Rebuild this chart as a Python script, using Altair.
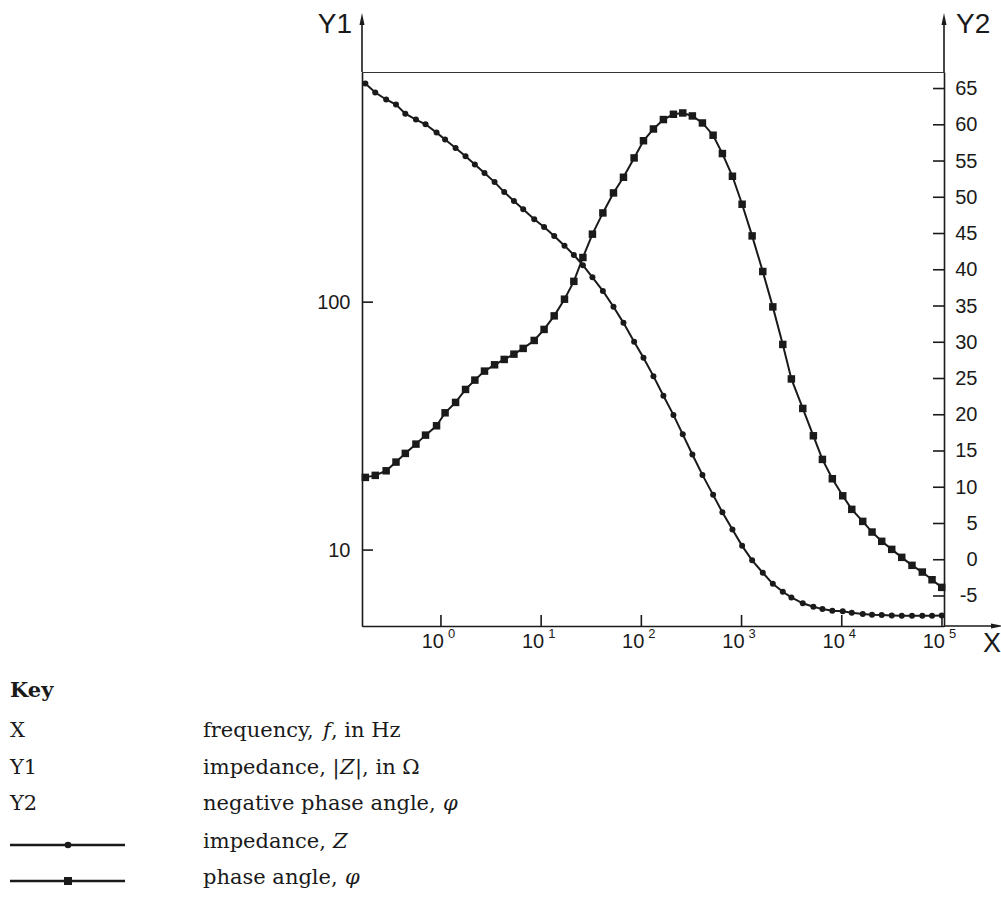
import altair as alt
import pandas as pd

# ---------------- data ----------------
freq = [0.176, 0.221, 0.284, 0.356, 0.441, 0.563, 0.702, 0.904, 1.10, 1.40,
        1.76, 2.18, 2.72, 3.43, 4.28, 5.35, 6.62, 8.53, 10.7, 13.5,
        17.1, 21.2, 26.1, 32.5, 41.3, 52.7, 66.3, 84.7, 105, 132,
        166, 209, 259, 323, 407, 520, 644, 811, 1013, 1275,
        1629, 2051, 2580, 3142, 4083, 5208, 6412, 8054, 10230, 12590,
        16190, 20050, 25050, 31540, 39700, 50240, 63670, 79620, 99500]
impedance = [762, 701, 657, 627, 576, 545, 522, 483, 453, 419,
             388, 359, 332, 305, 278, 256, 237, 216, 201, 185,
             169, 155, 141, 126, 111, 95.9, 82.5, 69.3, 59.7, 50.3,
             41.9, 35.1, 29.3, 24.3, 20.1, 16.7, 14.2, 12.1, 10.4, 9.09,
             8.10, 7.31, 6.79, 6.44, 6.10, 5.91, 5.78, 5.69, 5.66, 5.59,
             5.52, 5.48, 5.47, 5.45, 5.43, 5.43, 5.43, 5.43, 5.45]
phase = [11.36, 11.64, 12.27, 13.47, 14.67, 15.95, 17.19, 18.48, 20.27, 21.70,
         23.49, 24.78, 26.02, 26.89, 27.63, 28.36, 29.15, 30.25, 31.77, 33.64,
         35.94, 38.40, 41.69, 44.91, 47.84, 50.60, 52.76, 55.43, 57.80, 59.42,
         60.72, 61.45, 61.63, 61.22, 60.25, 58.56, 56.03, 52.90, 49.04, 44.67,
         39.76, 34.88, 29.70, 24.94, 20.87, 17.10, 13.84, 11.17, 8.82, 6.95,
         5.29, 3.82, 2.54, 1.43, 0.33, -0.77, -1.70, -2.76, -3.81]

x_ticks = [1, 10, 100, 1000, 10000, 100000]
x_tick_base = ["10", "10", "10", "10", "10", "10"]
x_tick_exp = ["0", "1", "2", "3", "4", "5"]
y1_ticks = [10, 100]
y2_ticks = [-5, 0, 5, 10, 15, 20, 25, 30, 35, 40, 45, 50, 55, 60, 65]

x_domain = [0.163, 104800]
y1_domain = [4.94, 848]
y2_domain = [-9.14, 67.28]

axis_names = ["X", "Y1", "Y2"]
key_title = "Key"
key_rows = [
    [("frequency, ", "normal"), ("f", "italic"), (", in Hz", "normal")],
    [("impedance, |", "normal"), ("Z", "italic"), ("|, in Ω", "normal")],
    [("negative phase angle, ", "normal"), ("φ", "italic")],
    [("impedance, ", "normal"), ("Z", "italic")],
    [("phase angle, ", "normal"), ("φ", "italic")],
]

# ---------------- layout / style ----------------
W, H = 582, 554
PADL, PADT = 362, 72
INK = "#1a1a1a"
SANS = "Liberation Sans"
SERIF = "DejaVu Serif"

df = pd.DataFrame({"f": freq, "Z": impedance, "phi": phase})
xt = pd.DataFrame({"f": x_ticks, "base": x_tick_base, "exp": x_tick_exp})
y1t = pd.DataFrame({"Z": y1_ticks})
y2t = pd.DataFrame({"phi": y2_ticks})
one = pd.DataFrame({"a": [0]})

xs = alt.Scale(type="log", domain=x_domain, nice=False)
y1s = alt.Scale(type="log", domain=y1_domain, nice=False)
y2s = alt.Scale(type="linear", domain=y2_domain, nice=False, zero=False)

x_axis = alt.Axis(values=x_ticks, labels=False, ticks=False, grid=False, title=None,
                  domainColor=INK, domainWidth=1.6)
y1_axis = alt.Axis(orient="left", values=y1_ticks, ticks=False, grid=False, title=None,
                   labelExpr="'' + datum.value", labelFont=SANS, labelFontSize=20,
                   labelColor=INK, labelPadding=12, domainColor=INK, domainWidth=1.6)
y2_axis = alt.Axis(orient="right", values=y2_ticks, ticks=False, grid=False, title=None,
                   labelExpr="'' + datum.value", labelFont=SANS, labelFontSize=20,
                   labelColor=INK, labelAlign="right", labelPadding=33,
                   domainColor=INK, domainWidth=1.6)

X = alt.X("f:Q", scale=xs, axis=x_axis)

# impedance group (left log axis)
imp_line = alt.Chart(df).mark_line(color=INK, strokeWidth=2).encode(
    x=X, y=alt.Y("Z:Q", scale=y1s, axis=y1_axis))
imp_pts = alt.Chart(df).mark_point(shape="circle", filled=True, size=36, color=INK, opacity=1).encode(
    x=X, y=alt.Y("Z:Q", scale=y1s, axis=y1_axis))
y1_tick_rules = alt.Chart(y1t).mark_rule(color=INK, strokeWidth=1.6).encode(
    y=alt.Y("Z:Q", scale=y1s, axis=y1_axis), x=alt.value(0), x2=alt.value(11))
imp_group = alt.layer(imp_line, imp_pts, y1_tick_rules)

# phase group (right linear axis)
ph_line = alt.Chart(df).mark_line(color=INK, strokeWidth=2).encode(
    x=X, y=alt.Y("phi:Q", scale=y2s, axis=y2_axis))
ph_pts = alt.Chart(df).mark_point(shape="square", filled=True, size=56, color=INK, opacity=1).encode(
    x=X, y=alt.Y("phi:Q", scale=y2s, axis=y2_axis))
y2_tick_rules = alt.Chart(y2t).mark_rule(color=INK, strokeWidth=1.6).encode(
    y=alt.Y("phi:Q", scale=y2s, axis=y2_axis), x=alt.value(W - 11), x2=alt.value(W))
ph_group = alt.layer(ph_line, ph_pts, y2_tick_rules)

# x ticks (inward) and labels 10^n
x_tick_rules = alt.Chart(xt).mark_rule(color=INK, strokeWidth=1.6).encode(
    x=X, y=alt.value(H - 11), y2=alt.value(H))
x_lab_base = alt.Chart(xt).mark_text(align="right", baseline="alphabetic", dx=3,
                                     font=SANS, fontSize=20, color=INK).encode(
    x=X, y=alt.value(H + 22), text="base:N")
x_lab_exp = alt.Chart(xt).mark_text(align="left", baseline="alphabetic", dx=7,
                                    font=SANS, fontSize=13, color=INK).encode(
    x=X, y=alt.value(H + 12), text="exp:N")

# axis extensions with arrow heads
def rule(x1, y1, x2, y2, sw=1.6):
    return alt.Chart(one).mark_rule(color=INK, strokeWidth=sw).encode(
        x=alt.value(x1), y=alt.value(y1), x2=alt.value(x2), y2=alt.value(y2))

def arrow(x, y, path):
    return alt.Chart(one).mark_point(shape=path, filled=True, size=144, color=INK,
                                     opacity=1, strokeWidth=0).encode(
        x=alt.value(x), y=alt.value(y))

UP = "M0,-1L0.42,1L-0.42,1Z"
RIGHT = "M1,0L-1,0.42L-1,-0.42Z"
deco = [
    rule(0, 0, 0, -50), arrow(0, -53, UP),
    rule(W, 0, W, -50), arrow(W, -53, UP),
    rule(W, H, W + 50, H), arrow(W + 53, H, RIGHT),
]

def txt(s, x, y, size, font, weight="normal", style="normal", align="left"):
    return alt.Chart(one).mark_text(text=s, align=align, baseline="alphabetic", font=font,
                                    fontSize=size, fontWeight=weight, fontStyle=style,
                                    color=INK).encode(x=alt.value(x), y=alt.value(y))

titles = [
    txt(axis_names[1], -10, -39, 28, SANS, align="right"),
    txt(axis_names[2], 594, -39, 28, SANS),
    txt(axis_names[0], 621, 580, 27, SANS),
]

# key block
KX_L, KX_R = 10 - PADL, 203 - PADL
key_base = [697, 737, 774, 810, 848, 884]
key_layers = [txt(key_title, KX_L, key_base[0] - PADT, 21, SERIF, weight="bold")]
for i, name in enumerate(axis_names):
    key_layers.append(txt(name, KX_L, key_base[i + 1] - PADT, 21, SERIF))
seg_offsets = [[0, 120, 128], [0, 137, 152], [0, 240], [0, 130], [0, 142]]
for r, segs in enumerate(key_rows):
    yb = key_base[r + 1] - PADT
    for (s, st), off in zip(segs, seg_offsets[r]):
        key_layers.append(txt(s, KX_R + off, yb, 21, SERIF, style=st))
# legend symbols
for j, shape, size in [(0, "circle", 44), (1, "square", 64)]:
    yl = [845, 881][j] - PADT
    key_layers.append(rule(10 - PADL, yl, 125 - PADL, yl, sw=2.4))
    key_layers.append(alt.Chart(one).mark_point(shape=shape, filled=True, size=size, color=INK,
                                                opacity=1).encode(x=alt.value(68 - PADL), y=alt.value(yl)))

chart = alt.layer(
    imp_group, ph_group, x_tick_rules, x_lab_base, x_lab_exp, *deco, *titles, *key_layers
).resolve_scale(y="independent").properties(
    width=W, height=H,
    padding={"left": PADL, "top": PADT, "right": 1001 - PADL - W, "bottom": 902 - PADT - H},
    autosize=alt.AutoSizeParams(type="none"),
).configure_view(stroke="#333333", strokeWidth=1)

chart.save("out.html", embed_options={"renderer": "svg", "actions": False})
